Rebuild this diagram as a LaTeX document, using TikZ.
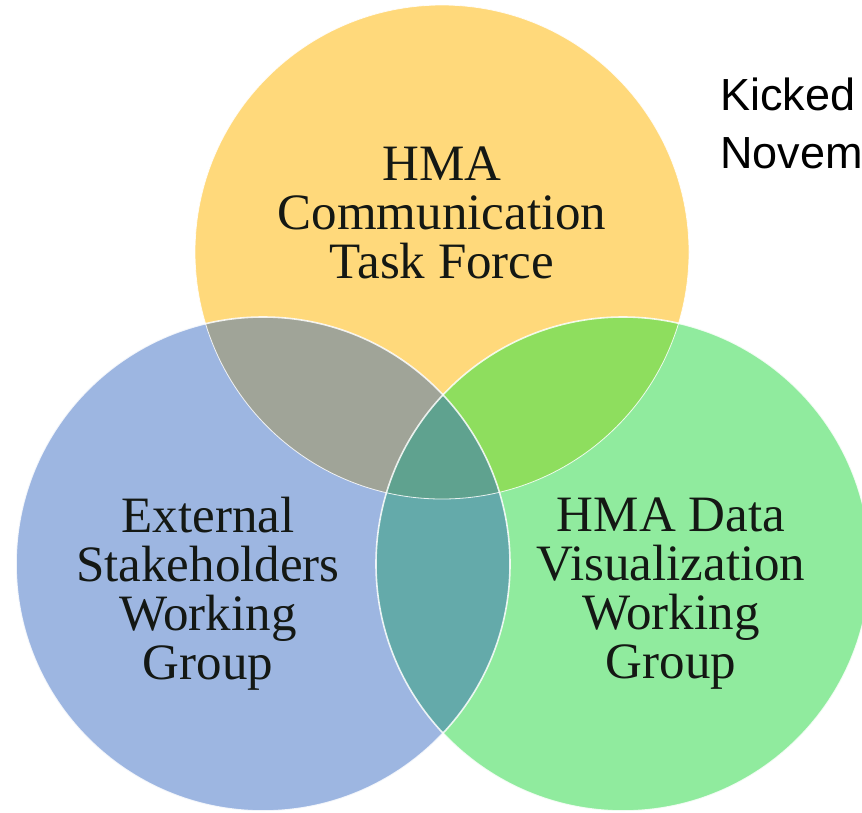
\documentclass[tikz,border=0pt]{standalone}
\usepackage{fontspec}
\setmainfont{Liberation Serif}
\newfontfamily\arialfont{Liberation Sans}
\definecolor{cyel}{HTML}{FFD97B}
\definecolor{cblu}{HTML}{9DB6E1}
\definecolor{cgrn}{HTML}{90EB9E}
\definecolor{cTL}{HTML}{A0A498}
\definecolor{cTR}{HTML}{8EDE5E}
\definecolor{cLR}{HTML}{64AAAA}
\definecolor{cTLR}{HTML}{5FA28F}
\definecolor{ctext}{HTML}{141814}
\begin{document}
\begin{tikzpicture}[x=1pt,y=-1pt,
  venn/.style={circle, minimum size=494pt, inner sep=0pt, draw=none},
  outline/.style={draw=white, line width=1.6pt, draw opacity=0.85},
  lbl/.style={align=center, font=\fontsize{51}{49}\selectfont, text=ctext, inner sep=0pt},
  side/.style={align=left, font=\arialfont\fontsize{45}{58}\selectfont, text=black, inner sep=0pt, anchor=north west}
]
\useasboundingbox (0,0) rectangle (862,812);
\fill[white] (0,0) rectangle (862,812);
\node[venn, fill=cyel] (T) at (442,252) {};
\node[venn, fill=cblu] (L) at (263,564) {};
\node[venn, fill=cgrn] (R) at (623,564) {};
\begin{scope}
  \clip (T.center) circle (247);
  \fill[cTL] (L.center) circle (247);
  \fill[cTR] (R.center) circle (247);
\end{scope}
\begin{scope}
  \clip (L.center) circle (247);
  \fill[cLR] (R.center) circle (247);
  \clip (T.center) circle (247);
  \fill[cTLR] (R.center) circle (247);
\end{scope}
\draw[outline, line width=0.8pt] (T.center) circle (247);
\draw[outline] (L.center) circle (247);
\draw[outline] (R.center) circle (247);
\node[lbl] (tT) at (442,212.5) {HMA\\Communication\\Task Force};
\node[lbl] (tL) at (208,594) {External\\Stakeholders\\Working\\Group};
\node[lbl] (tR) at (671,594) {HMA Data\\Visualization\\Working\\Group};
\node[side] (kick) at (720,78) {Kicked\\Novem};
\end{tikzpicture}
\end{document}
